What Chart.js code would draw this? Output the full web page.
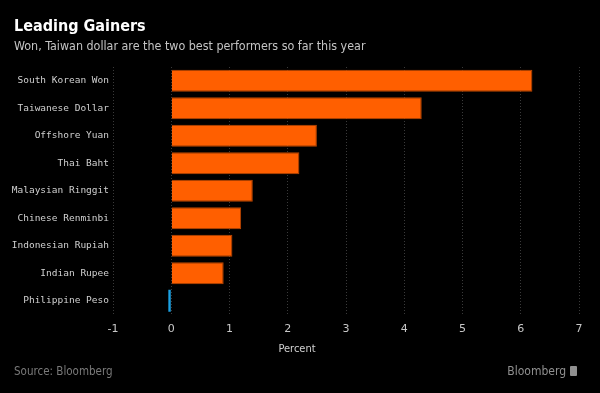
<!DOCTYPE html>
<html>
<head>
<meta charset="utf-8">
<script src="https://cdn.jsdelivr.net/npm/chart.js@4"></script>
<style>
  html, body { margin: 0; padding: 0; background: #000; }
  #wrap { position: relative; width: 600px; height: 393px; background: #000; overflow: hidden; }
  #chart { position: absolute; left: 0; top: 0; }
  .txt { position: absolute; font-family: "DejaVu Sans", sans-serif; font-stretch: condensed; white-space: nowrap; }
  #title { left: 14px; top: 16px; font-size: 16px; font-weight: bold; color: #fff; }
  #subtitle { left: 14px; top: 38px; font-size: 12.4px; color: #c4c4c4; }
  #xtitle { left: 297px; top: 342px; transform: translateX(-50%); font-size: 11px; color: #d0d0d0; }
  #source { left: 14px; top: 364px; font-size: 11.5px; color: #7a7a7a; }
  #logo { right: 23px; top: 364px; font-size: 12px; color: #909090; }
  #logo span { display: inline-block; width: 7px; height: 10px; background: #909090; margin-left: 4px; vertical-align: -1px; border-radius: 1px; }
</style>
</head>
<body>
<div id="wrap">
  <canvas id="chart" width="600" height="393"></canvas>
  <div class="txt" id="title">Leading Gainers</div>
  <div class="txt" id="subtitle">Won, Taiwan dollar are the two best performers so far this year</div>
  <div class="txt" id="xtitle">Percent</div>
  <div class="txt" id="source">Source: Bloomberg</div>
  <div class="txt" id="logo">Bloomberg<span></span></div>
</div>
<script>
// data grafik
const currencies = ['South Korean Won', 'Taiwanese Dollar', 'Offshore Yuan', 'Thai Baht',
  'Malaysian Ringgit', 'Chinese Renminbi', 'Indonesian Rupiah', 'Indian Rupee', 'Philippine Peso'];
const ytdChange = [6.2, 4.3, 2.5, 2.2, 1.4, 1.2, 1.05, 0.9, -0.05];
const xTicks = [-1, 0, 1, 2, 3, 4, 5, 6, 7];

const barColors = ytdChange.map(v => v >= 0 ? '#ff5f00' : '#1ba1e2');
const borderColors = ytdChange.map(v => v >= 0 ? '#b94500' : '#1ba1e2');

const chart = new Chart(document.getElementById('chart'), {
  type: 'bar',
  data: {
    labels: currencies,
    datasets: [{
      data: ytdChange,
      backgroundColor: barColors,
      borderColor: borderColors,
      borderWidth: ytdChange.map(v => v >= 0 ? 1 : 0),
      barPercentage: 0.8,
      categoryPercentage: 1.0
    }]
  },
  options: {
    indexAxis: 'y',
    responsive: false,
    animation: false,
    layout: { padding: { top: 67, right: 21, left: 0, bottom: 0 } },
    scales: {
      x: {
        min: xTicks[0],
        max: xTicks[xTicks.length - 1],
        afterBuildTicks: axis => { axis.ticks = xTicks.map(v => ({ value: v })); },
        afterFit: scale => { scale.height = 78.5; },
        grid: {
          display: true,
          color: '#3a3a3a',
          drawTicks: false
        },
        border: { display: false, dash: [1, 2] }, // garis grid putus-putus
        ticks: {
          color: '#c8c8c8',
          padding: 8,
          font: { family: 'DejaVu Sans', size: 11 }
        }
      },
      y: {
        afterFit: scale => { scale.width = 113; },
        grid: { display: false, drawTicks: false },
        border: { display: false },
        ticks: {
          color: '#d0d0d0',
          padding: 4,
          font: { family: 'DejaVu Sans Mono', size: 9.5 }
        }
      }
    },
    plugins: {
      legend: { display: false },
      tooltip: { enabled: false }
    }
  }
});
</script>
</body>
</html>
